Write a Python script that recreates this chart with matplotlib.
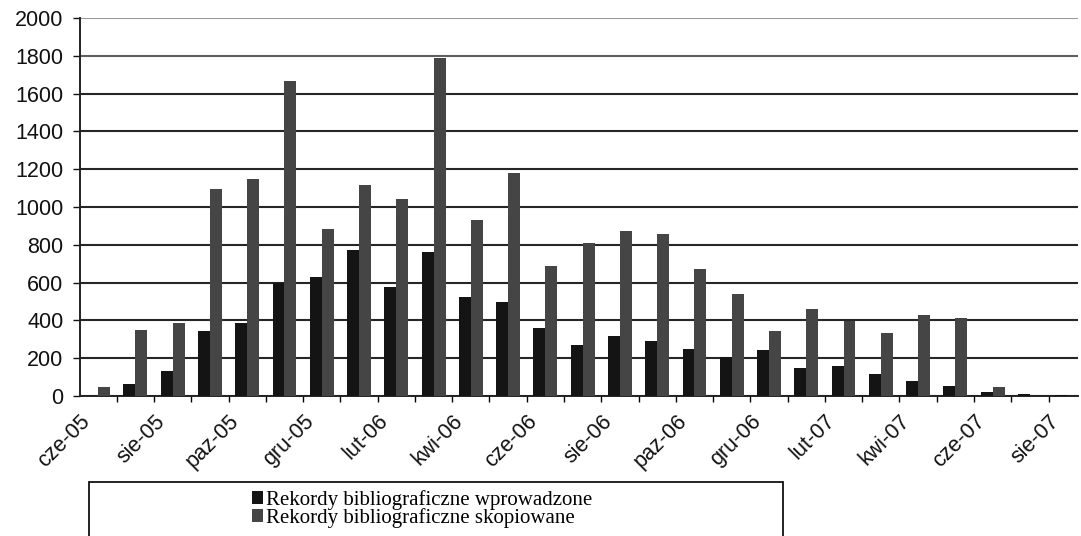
import matplotlib
matplotlib.use("Agg")
import matplotlib.pyplot as plt
import numpy as np
from matplotlib.patches import Rectangle
from matplotlib.transforms import ScaledTranslation

# miesiące od czerwca 2005 do sierpnia 2007
months = ["cze-05", "lip-05", "sie-05", "wrz-05", "paz-05", "lis-05", "gru-05",
          "sty-06", "lut-06", "mar-06", "kwi-06", "maj-06", "cze-06", "lip-06",
          "sie-06", "wrz-06", "paz-06", "lis-06", "gru-06", "sty-07", "lut-07",
          "mar-07", "kwi-07", "maj-07", "cze-07", "lip-07", "sie-07"]

wprowadzone = [0, 62, 133, 342, 386, 600, 630, 770, 578, 760, 525, 495, 360, 270,
               320, 290, 250, 205, 245, 150, 157, 115, 78, 55, 21, 12, 3]
skopiowane = [47, 351, 388, 1095, 1150, 1665, 885, 1115, 1042, 1790, 933, 1178, 686,
              808, 872, 855, 670, 542, 345, 458, 397, 333, 430, 414, 46, 2, 1]

labels_wpr = "Rekordy bibliograficzne wprowadzone"
labels_skop = "Rekordy bibliograficzne skopiowane"

W, H = 1081, 536
fig = plt.figure(figsize=(W / 100, H / 100), dpi=100)
ax = fig.add_axes([79.5 / W, (H - 396) / H, (1078 - 79.5) / W, 378 / H])

x = np.arange(len(months))
bw = 0.32
ax.bar(x - bw / 2, wprowadzone, bw, color="#141414", label=labels_wpr, zorder=3)
ax.bar(x + bw / 2, skopiowane, bw, color="#454545", label=labels_skop, zorder=3)

ax.set_ylim(0, 2000)
ax.set_xlim(-0.5, 26.29)
ax.set_yticks(np.arange(0, 2001, 200))
ax.set_axisbelow(True)
ax.yaxis.grid(True, color="#262626", lw=1.5)
grid = ax.get_ygridlines()
grid[-1].set_color("#9a9a9a")
grid[-2].set_color("#606060")

for s in ["top", "right"]:
    ax.spines[s].set_visible(False)
ax.spines["left"].set_color("#222222")
ax.spines["bottom"].set_color("#222222")
ax.spines["left"].set_linewidth(1.4)
ax.spines["bottom"].set_linewidth(1.4)

ax.tick_params(axis="y", direction="out", length=5, width=1, pad=6.5,
               labelsize=15.5, colors="#111111")
for t in ax.get_yticklabels():
    t.set_family("Liberation Sans")

# etykiety co drugi miesiąc, kreski między kategoriami
ax.set_xticks(x[::2])
ax.set_xticklabels(months[::2], rotation=45, ha="right", va="center",
                   rotation_mode="anchor", fontsize=15.5, family="Liberation Sans",
                   color="#111111")
ax.set_xticks(np.arange(0.5, 26, 1), minor=True)
ax.tick_params(axis="x", which="major", length=0, pad=16)
ax.tick_params(axis="x", which="minor", length=4, width=1, direction="out")
off = ScaledTranslation(-8 / 72, 0, fig.dpi_scale_trans)
for t in ax.get_xticklabels():
    t.set_transform(t.get_transform() + off)

# ramka legendy (ucięta u dołu)
fig.patches.append(Rectangle((89 / W, -0.05), (783 - 89) / W, (536 - 482) / H + 0.05,
                             transform=fig.transFigure, fill=False,
                             ec="#111111", lw=1.3))
fig.legend(loc="upper left", bbox_to_anchor=(252 / W, 1 - 490 / H), frameon=False,
           prop={"family": "Liberation Serif", "size": 15},
           handlelength=0.55, handleheight=0.55, handletextpad=0.12,
           labelspacing=-0.1, borderpad=0, borderaxespad=0)

fig.savefig("out.png", dpi=100)
